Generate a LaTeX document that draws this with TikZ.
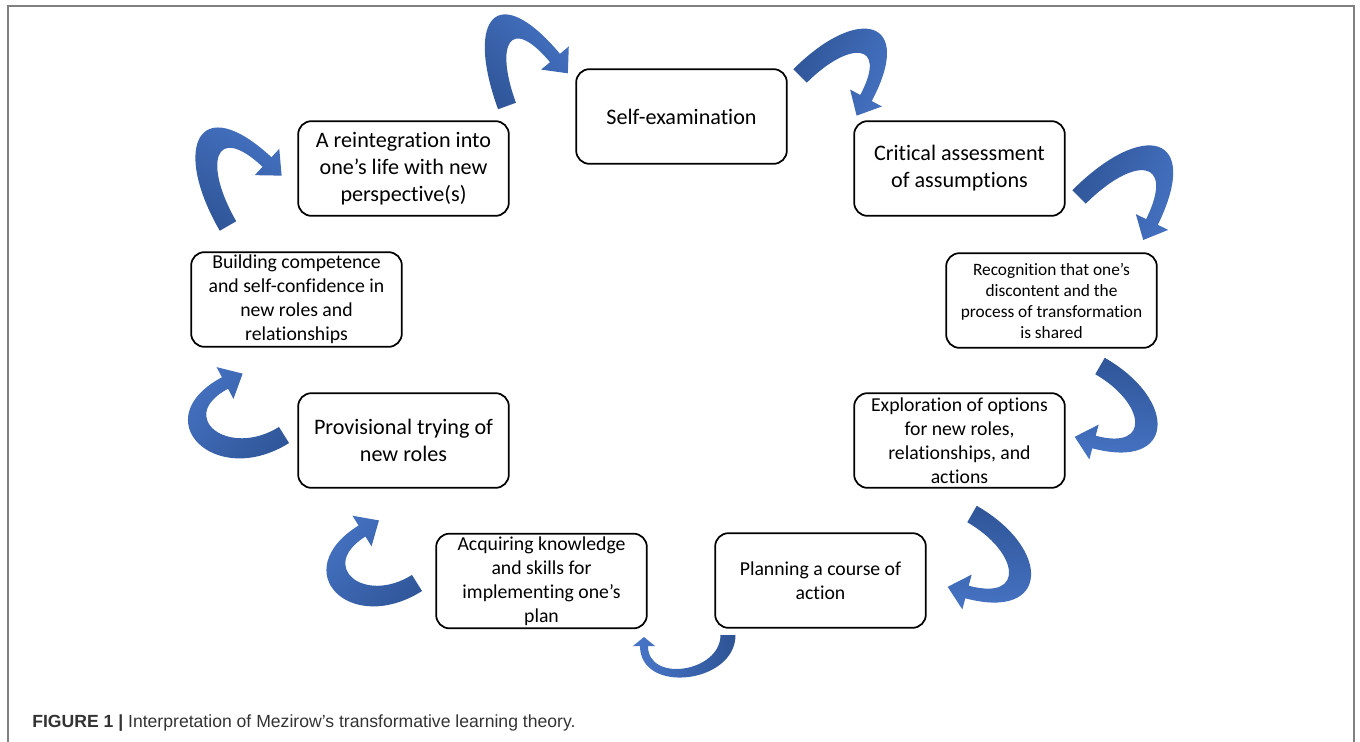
\documentclass[tikz,border=0pt]{standalone}
\usepackage{fontspec}
\setmainfont{Carlito}[Ligatures={TeX,NoCommon}]
\newfontfamily\capfont{Liberation Sans}
\usetikzlibrary{calc}

\definecolor{arrowlight}{RGB}{72,118,200}
\definecolor{arrowdark}{RGB}{47,85,151}
\definecolor{framegray}{RGB}{128,128,128}
\definecolor{captext}{RGB}{51,51,51}

\tikzset{
  stagebox/.style={draw=black, line width=1.3pt, rounded corners=10pt, align=center,
    minimum width=158pt, minimum height=71pt, inner sep=2pt},
  bigtext/.style={font=\fontsize{16.6}{20.25}\selectfont},
  midtext/.style={font=\fontsize{14.8}{18}\selectfont},
  smalltext/.style={font=\fontsize{13}{15.75}\selectfont},
}

% ribbon sizes: half width at tail, half width at head, head half width, head length
\def\tailw{9.5}\def\neckw{6.5}\def\headw{18}\def\headl{20}

% curved ribbon arrow: tail, out angle, head base, in angle, looseness
\newcommand{\bentarrow}[5]{%
  \path let \p1=($(#3)-(#1)$) in
    \pgfextra{\pgfmathparse{atan2(\y1,\x1)-90}\xdef\shadeang{\pgfmathresult}};
  \pgfmathsetmacro{\angtl}{#2+90}\pgfmathsetmacro{\angtr}{#2-90}
  \pgfmathsetmacro{\anghl}{#4-90}\pgfmathsetmacro{\anghr}{#4+90}
  \pgfmathsetmacro{\anghf}{#4+180}
  \shade[top color=arrowlight, bottom color=arrowdark, shading angle=\shadeang]
    ($(#1)+(\angtl:\tailw)$) to[out=#2,in=#4,looseness=#5] ($(#3)+(\anghl:\neckw)$)
    -- ($(#3)+(\anghl:\headw)$) -- ($(#3)+(\anghf:\headl)$) -- ($(#3)+(\anghr:\headw)$)
    -- ($(#3)+(\anghr:\neckw)$) to[out=#4,in=#2,looseness=#5] ($(#1)+(\angtr:\tailw)$)
    -- cycle;
}

\begin{document}
\begin{tikzpicture}[x=0.75pt, y=0.75pt]
  \useasboundingbox (0,0) rectangle (1360,-742);

  % open frame
  \draw[framegray, line width=1.5pt] (7.5,-742) -- (7.5,-6.5) -- (1354,-6.5) -- (1354,-742);

  % the nine stages
  \node[stagebox, bigtext] (selfexam) at (681.5,-116.5) {Self-examination};
  \node[stagebox, bigtext] (critical) at (959.5,-168.5) {Critical assessment\\of assumptions};
  \node[stagebox, smalltext] (recognition) at (1051.5,-300.5)
    {Recognition that one’s\\discontent and the\\process of transformation\\is shared};
  \node[stagebox, midtext] (explore) at (959.5,-440.5)
    {Exploration of options\\for new roles,\\relationships, and\\actions};
  \node[stagebox, midtext] (planning) at (820.5,-580.5) {Planning a course of\\action};
  \node[stagebox, midtext] (acquiring) at (541.5,-581)
    {Acquiring knowledge\\and skills for\\implementing one’s\\plan};
  \node[stagebox, bigtext] (provisional) at (403.5,-440.5) {Provisional trying of\\new roles};
  \node[stagebox, midtext] (building) at (296.5,-299.5)
    {Building competence\\and self-confidence in\\new roles and\\relationships};
  \node[stagebox, bigtext] (reintegrate) at (403.5,-168.5)
    {A reintegration into\\one’s life with new\\perspective(s)};

  % ends of the ribbons
  \coordinate (tail1) at (507,-106);  \coordinate (head1) at (555,-58);
  \coordinate (tail2) at (800,-76);   \coordinate (head2) at (866,-98);
  \coordinate (tail3) at (1079,-197); \coordinate (head3) at (1152,-222);
  \coordinate (tail4) at (1100,-366); \coordinate (head4) at (1094,-442);
  \coordinate (tail5) at (972,-514);  \coordinate (head5) at (967,-592);
  \coordinate (tail6) at (728,-635);  \coordinate (head6) at (644,-646);
  \coordinate (tail7) at (417,-583);  \coordinate (head7) at (362,-531);
  \coordinate (tail8) at (284,-435);  \coordinate (head8) at (225,-383);
  \coordinate (tail9) at (228,-226);  \coordinate (head9) at (267,-162);

  \bentarrow{tail1}{110}{head1}{130}{3}
  \bentarrow{tail2}{45}{head2}{62}{2.8}
  \bentarrow{tail3}{45}{head3}{64}{2.8}
  \bentarrow{tail4}{-30}{head4}{-15}{2.4}
  \bentarrow{tail5}{-30}{head5}{-15}{2.4}
  \begin{scope}
    \def\tailw{7.5}\def\neckw{4}\def\headw{11}\def\headl{9}
    \bentarrow{tail6}{-90}{head6}{-90}{1.3}
  \end{scope}
  \bentarrow{tail7}{212}{head7}{212}{2.4}
  \bentarrow{tail8}{212}{head8}{208}{2.4}
  \bentarrow{tail9}{120}{head9}{137}{2.8}

  \node[anchor=base west, inner sep=0, text=captext,
        font=\capfont\fontsize{13.2}{16}\selectfont] (caption) at (32,-727)
    {\textbf{FIGURE 1 |} Interpretation of Mezirow’s transformative learning theory.};
\end{tikzpicture}
\end{document}
